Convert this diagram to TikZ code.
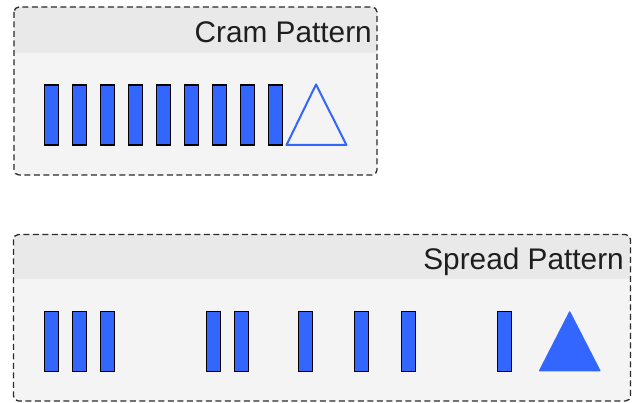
\documentclass[tikz,border=0pt]{standalone}
\usepackage{fontspec}
\setmainfont{Liberation Sans}
\definecolor{hdr}{HTML}{E9E9E9}
\definecolor{bodyc}{HTML}{F4F4F4}
\definecolor{barblue}{HTML}{3366FF}
\definecolor{frame}{HTML}{2A2A2A}
\definecolor{txt}{HTML}{1E1E1E}
\tikzset{
  barbox/.style={draw=black, line width=1.1pt, fill=barblue, minimum width=14pt, minimum height=60pt, inner sep=0pt, anchor=north west, rectangle},
  framebox/.style={draw=frame, line width=1.3pt, dash pattern=on 6pt off 3.5pt, rounded corners=5pt},
  title/.style={font=\fontsize{29.8}{32}\selectfont, text=txt, inner sep=0pt, anchor=base east},
}
\begin{document}
\begin{tikzpicture}[x=1pt,y=-1pt]
\useasboundingbox (0,0) rectangle (638,403);
% top panel
\begin{scope}
  \clip[rounded corners=5pt] (14,7) rectangle (377,175);
  \fill[bodyc] (14,7) rectangle (377,175);
  \fill[hdr] (14,7) rectangle (377,53);
\end{scope}
\draw[framebox] (14,7) rectangle (377,175);
\node[title] (t1) at (372,43) {Cram Pattern};
\foreach \i/\x in {1/43.8,2/71.8,3/99.8,4/127.8,5/155.8,6/183.8,7/211.8,8/239.8,9/267.8}{
  \node[barbox] (c\i) at (\x,84.5) {};
}
\coordinate (ta) at (316,84.5);
\coordinate (tb) at (286.5,145);
\coordinate (tc) at (346.5,145);
\draw[barblue, line width=2pt, line join=round] (ta) -- (tb) -- (tc) -- cycle;
% bottom panel
\begin{scope}
  \clip[rounded corners=5pt] (13.5,234.5) rectangle (630.5,401);
  \fill[bodyc] (13.5,234.5) rectangle (630.5,401);
  \fill[hdr] (13.5,234.5) rectangle (630.5,279.5);
\end{scope}
\draw[framebox] (13.5,234.5) rectangle (630.5,401);
\node[title] (t2) at (624,269.5) {Spread Pattern};
\foreach \i/\x in {1/43.8,2/71.8,3/100,4/206,5/234,6/298,7/354.3,8/400.5,9/497}{
  \node[barbox] (s\i) at (\x,310.8) {};
}
\coordinate (sa) at (569.7,310.5);
\coordinate (sb) at (538.5,371.5);
\coordinate (sc) at (601,371.5);
\fill[barblue, rounded corners=1pt] (sa) -- (sb) -- (sc) -- cycle;
\end{tikzpicture}
\end{document}
